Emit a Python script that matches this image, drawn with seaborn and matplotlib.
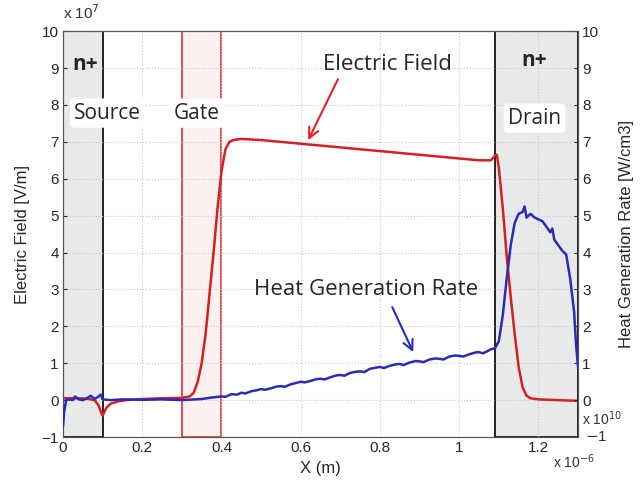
import numpy as np
import pandas as pd
import matplotlib
matplotlib.use('Agg')
import matplotlib.pyplot as plt
import seaborn as sns

# x in units of 1e-6 m, field in 1e7 V/m, heat in 1e10 W/cm3
x_field = [0.0, 0.02, 0.04, 0.06, 0.08, 0.09, 0.095, 0.1, 0.105, 0.11, 0.12,
           0.14, 0.16, 0.2, 0.25, 0.3, 0.32, 0.33, 0.34, 0.35, 0.36, 0.37,
           0.38, 0.39, 0.40, 0.41, 0.42, 0.43, 0.45, 0.5, 0.6, 0.7, 0.8, 0.9,
           1.0, 1.05, 1.08, 1.09, 1.095, 1.1, 1.11, 1.12, 1.13, 1.14, 1.15,
           1.16, 1.17, 1.18, 1.2, 1.25, 1.3]
e_field = [0.05, 0.05, 0.05, 0.04, 0.0, -0.15, -0.3, -0.42, -0.3, -0.2, -0.1,
           -0.03, 0.0, 0.03, 0.05, 0.06, 0.1, 0.2, 0.5, 1.0, 1.8, 2.9,
           4.0, 5.2, 6.2, 6.8, 7.0, 7.05, 7.08, 7.05, 6.95, 6.85, 6.75, 6.65,
           6.55, 6.5, 6.5, 6.62, 6.65, 6.3, 5.2, 3.9, 2.8, 1.8, 0.9,
           0.35, 0.12, 0.05, 0.02, 0.0, -0.02]

x_heat = [0.0, 0.003, 0.008, 0.015, 0.025, 0.03, 0.04, 0.05, 0.06, 0.07, 0.08,
          0.09, 0.095, 0.1, 0.12, 0.15, 0.2, 0.25, 0.3, 0.35, 0.375, 0.4,
          0.41, 0.425, 0.44, 0.45, 0.46, 0.475, 0.49, 0.5, 0.51, 0.525, 0.54,
          0.55, 0.56, 0.575, 0.59, 0.6, 0.61, 0.625, 0.64, 0.65, 0.66, 0.675,
          0.69, 0.7, 0.71, 0.725, 0.74, 0.75, 0.76, 0.775, 0.79, 0.8, 0.81,
          0.825, 0.84, 0.85, 0.86, 0.875, 0.89, 0.9, 0.91, 0.925, 0.94, 0.95,
          0.96, 0.975, 0.99, 1.0, 1.01, 1.025, 1.04, 1.05, 1.06, 1.07, 1.08,
          1.09, 1.1, 1.11, 1.12, 1.13, 1.14, 1.15, 1.16, 1.165, 1.17, 1.18,
          1.19, 1.2, 1.21, 1.22, 1.23, 1.235, 1.24, 1.25, 1.26, 1.27, 1.28,
          1.29, 1.295, 1.3]
heat = [-0.7, -0.3, 0.0, 0.02, 0.0, 0.1, 0.02, 0.0, 0.05, 0.12, 0.03,
        0.1, 0.15, 0.02, 0.0, 0.02, 0.01, 0.02, 0.0, 0.03, 0.07, 0.1,
        0.09, 0.16, 0.15, 0.2, 0.18, 0.24, 0.27, 0.3, 0.28, 0.32, 0.37,
        0.38, 0.36, 0.43, 0.47, 0.5, 0.48, 0.52, 0.57, 0.58, 0.56, 0.62,
        0.67, 0.68, 0.66, 0.74, 0.77, 0.78, 0.76, 0.85, 0.88, 0.9, 0.87,
        0.93, 0.97, 0.98, 0.95, 1.02, 1.06, 1.05, 1.03, 1.1, 1.13, 1.12,
        1.1, 1.18, 1.21, 1.2, 1.18, 1.24, 1.29, 1.3, 1.27, 1.32, 1.38,
        1.4, 1.6, 2.3, 3.3, 4.2, 4.8, 5.05, 5.1, 5.25, 4.95, 5.05,
        4.95, 4.9, 4.85, 4.7, 4.55, 4.65, 4.35, 4.2, 4.05, 3.95, 3.3,
        2.4, 1.5, 0.9]

df_field = pd.DataFrame({'x': x_field, 'E': e_field})
df_heat = pd.DataFrame({'x': x_heat, 'Q': heat})

sns.set_style('whitegrid', {'grid.linestyle': ':', 'grid.color': '#c8c8c8',
                            'axes.edgecolor': '#555555'})
plt.rcParams['font.family'] = ['Liberation Sans', 'DejaVu Sans']

fig = plt.figure(figsize=(6.43, 4.86), dpi=100)
ax = fig.add_axes([0.098, 0.1008, 0.801, 0.835])
ax2 = ax.twinx()

# region boxes
ax.axvspan(0.0, 0.1, facecolor='#e8eaea', edgecolor='black', linewidth=1.2, zorder=0.5)
ax.axvspan(0.3, 0.4, facecolor='#fcf1ef', edgecolor='#e03030', linewidth=1.2, zorder=0.5)
ax.axvspan(1.09, 1.3, facecolor='#e8eaea', edgecolor='black', linewidth=1.2, zorder=0.5)

sns.lineplot(data=df_field, x='x', y='E', ax=ax, color='#d42020', linewidth=1.8, zorder=3)
sns.lineplot(data=df_heat, x='x', y='Q', ax=ax2, color='#2b2bb5', linewidth=1.8, zorder=3)

ax.set_xlim(0, 1.3)
ax.set_ylim(-1, 10)
ax2.set_ylim(-1, 10)
ax.set_xticks([0, 0.2, 0.4, 0.6, 0.8, 1.0, 1.2])
ax.set_xticklabels(['0', '0.2', '0.4', '0.6', '0.8', '1', '1.2'])
ax.set_yticks(range(-1, 11))
ax2.set_yticks(range(-1, 11))
ax2.grid(False)
for a in (ax, ax2):
    a.tick_params(labelsize=11, direction='in', length=3, pad=3)
ax2.set_yticklabels([''] + [str(v) for v in range(0, 11)])

ax.set_xlabel('X (m)', fontsize=12, labelpad=4)
ax.set_ylabel('Electric Field [V/m]', fontsize=12, labelpad=8)
ax2.set_ylabel('Heat Generation Rate [W/cm3]', fontsize=12, labelpad=14)

# offset texts
fig.text(0.098, 0.955, r'x 10$^{7}$', fontsize=11, ha='left', va='bottom', color='#333333')
fig.text(0.86, 0.03, r'x 10$^{-6}$', fontsize=10, ha='left', va='bottom', color='#333333')
fig.text(0.905, 0.158, r'x 10$^{10}$', fontsize=10, ha='left', va='top', color='#333333')
fig.text(0.91, 0.10, r'$-$1', fontsize=11, ha='left', va='center', color='#333333')

# region labels
lab = dict(fontsize=15, ha='center', va='center', family=['Open Sans', 'DejaVu Sans'], zorder=5)
box = dict(boxstyle='round,pad=0.2', facecolor='white', edgecolor='none')
ax.text(0.056, 9.1, 'n+', fontweight='bold', **lab)
ax.text(1.19, 9.2, 'n+', fontweight='bold', **lab)
ax.text(0.113, 7.78, 'Source', bbox=box, **lab)
ax.text(0.338, 7.78, 'Gate', bbox=box, **lab)
ax.text(1.19, 7.64, 'Drain', bbox=box, **lab)

# curve annotations
ax.text(0.82, 9.1, 'Electric Field', fontsize=16, ha='center', va='center',
        family=['Open Sans', 'DejaVu Sans'])
ax.annotate('', xy=(0.619, 7.05), xytext=(0.694, 8.7),
            arrowprops=dict(arrowstyle='->', color='#e82020', lw=1.5,
                            shrinkA=0, shrinkB=0, mutation_scale=18))
ax.text(0.765, 3.0, 'Heat Generation Rate', fontsize=16, ha='center', va='center',
        family=['Open Sans', 'DejaVu Sans'])
ax.annotate('', xy=(0.884, 1.3), xytext=(0.831, 2.52),
            arrowprops=dict(arrowstyle='->', color='#2b2bb5', lw=1.5,
                            shrinkA=0, shrinkB=0, mutation_scale=18))

fig.savefig('out.png', dpi=100)
